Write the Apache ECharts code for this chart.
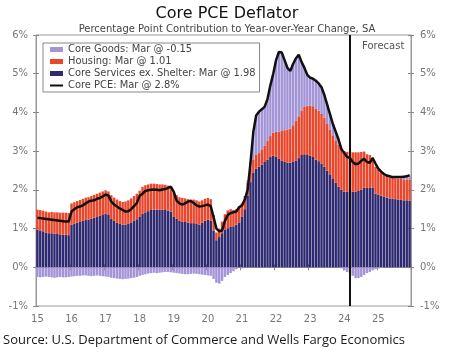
<!DOCTYPE html>
<html>
<head>
<meta charset="utf-8">
<script src="https://cdn.jsdelivr.net/npm/echarts@6/dist/echarts.min.js"></script>
<style>
html,body{margin:0;padding:0;background:#fff;}
#c{width:458px;height:361px;}
</style>
</head>
<body>
<div id="c"></div>
<script>
const years = ['15','16','17','18','19','20','21','22','23','24','25'];
const yAxisTicks = [-1, 0, 1, 2, 3, 4, 5, 6];

// Core services ex. shelter (pp contribution), Jan 2015 - Dec 2025
const services = [
  0.97,0.95,0.93,0.9,0.88,0.88,0.87,0.86,0.85,0.84,0.84,0.83,
  1.1,1.12,1.15,1.17,1.2,1.22,1.23,1.25,1.28,1.3,1.33,1.35,
  1.38,1.35,1.25,1.2,1.15,1.12,1.1,1.1,1.12,1.16,1.2,1.24,
  1.3,1.38,1.42,1.45,1.48,1.49,1.49,1.49,1.49,1.48,1.46,1.44,
  1.3,1.25,1.2,1.18,1.17,1.15,1.14,1.14,1.12,1.1,1.15,1.2,
  1.23,1.2,0.95,0.7,0.78,0.88,0.97,1.01,1.04,1.06,1.1,1.16,
  1.3,1.5,1.85,2.2,2.45,2.55,2.6,2.65,2.72,2.78,2.85,2.88,
  2.85,2.8,2.76,2.72,2.7,2.7,2.72,2.76,2.82,2.9,2.92,2.9,
  2.88,2.85,2.78,2.74,2.68,2.6,2.5,2.4,2.28,2.18,2.08,2.0,
  1.95,1.95,1.98,1.95,1.95,1.97,2.0,2.05,2.05,2.05,2.05,1.9,
  1.88,1.85,1.83,1.8,1.78,1.77,1.76,1.75,1.74,1.73,1.73,1.72
];
// Housing
const housing = [
  0.52,0.53,0.53,0.54,0.54,0.55,0.55,0.56,0.56,0.57,0.57,0.57,
  0.55,0.56,0.56,0.57,0.57,0.58,0.58,0.59,0.59,0.6,0.6,0.61,
  0.61,0.61,0.61,0.6,0.6,0.59,0.59,0.6,0.61,0.62,0.64,0.66,
  0.68,0.7,0.7,0.69,0.68,0.67,0.66,0.65,0.65,0.65,0.65,0.64,
  0.62,0.61,0.61,0.61,0.61,0.61,0.61,0.61,0.61,0.6,0.58,0.57,
  0.56,0.56,0.4,0.2,0.22,0.3,0.4,0.46,0.46,0.42,0.4,0.38,
  0.35,0.34,0.34,0.34,0.34,0.35,0.35,0.38,0.42,0.48,0.54,0.6,
  0.65,0.7,0.76,0.82,0.86,0.88,0.95,1.02,1.08,1.15,1.22,1.27,
  1.3,1.31,1.31,1.3,1.28,1.26,1.2,1.16,1.13,1.1,1.09,1.08,
  1.05,1.03,1.01,1.02,1.02,1.0,0.98,0.94,0.87,0.85,0.79,0.7,
  0.65,0.6,0.58,0.56,0.55,0.54,0.54,0.54,0.54,0.54,0.54,0.55
];
// Core goods
const goods = [
  -0.25,-0.26,-0.25,-0.24,-0.25,-0.26,-0.27,-0.26,-0.25,-0.26,-0.26,-0.25,
  -0.24,-0.23,-0.22,-0.22,-0.21,-0.21,-0.22,-0.23,-0.22,-0.21,-0.22,-0.23,
  -0.24,-0.25,-0.27,-0.28,-0.29,-0.3,-0.31,-0.3,-0.29,-0.28,-0.27,-0.25,
  -0.22,-0.2,-0.18,-0.16,-0.15,-0.14,-0.15,-0.14,-0.13,-0.12,-0.12,-0.13,
  -0.14,-0.15,-0.16,-0.17,-0.18,-0.18,-0.17,-0.16,-0.17,-0.18,-0.19,-0.2,
  -0.21,-0.22,-0.3,-0.4,-0.42,-0.35,-0.25,-0.2,-0.15,-0.1,-0.05,0.03,
  -0.03,0.0,0.05,0.2,0.7,1.0,1.07,1.05,1.0,1.09,1.31,1.52,
  1.85,2.06,2.03,1.81,1.59,1.49,1.58,1.62,1.59,1.25,1.01,0.8,
  0.72,0.71,0.73,0.71,0.69,0.59,0.5,0.39,0.29,0.22,0.13,-0.03,
  -0.08,-0.12,-0.15,-0.22,-0.28,-0.28,-0.25,-0.2,-0.15,-0.12,-0.08,-0.05,
  -0.03,-0.02,0.0,0.02,0.03,0.03,0.04,0.05,0.06,0.07,0.08,0.1
];
// Core PCE, year-over-year %
const corePCE = [
  1.28,1.27,1.26,1.25,1.24,1.23,1.22,1.21,1.2,1.19,1.18,1.18,
  1.44,1.5,1.55,1.57,1.6,1.65,1.7,1.72,1.73,1.77,1.79,1.83,
  1.88,1.85,1.7,1.62,1.57,1.52,1.48,1.44,1.45,1.5,1.58,1.66,
  1.85,1.9,1.97,1.99,2.0,2.01,2.0,1.99,2.01,2.02,2.05,2.08,
  1.95,1.72,1.65,1.62,1.65,1.7,1.71,1.66,1.6,1.57,1.58,1.6,
  1.62,1.58,1.3,1.0,0.93,0.95,1.2,1.35,1.4,1.42,1.44,1.55,
  1.6,1.75,2.0,2.7,3.5,3.92,4.02,4.08,4.15,4.35,4.7,5.0,
  5.35,5.56,5.55,5.35,5.15,5.07,5.25,5.4,5.49,5.3,5.15,4.97,
  4.9,4.87,4.82,4.75,4.65,4.45,4.2,3.95,3.7,3.5,3.3,3.05,
  2.95,2.85,2.82,2.72,2.66,2.68,2.75,2.8,2.72,2.7,2.82,2.68,
  2.55,2.47,2.41,2.37,2.35,2.33,2.33,2.33,2.33,2.34,2.35,2.38
];
const recession = ['2020-02', '2020-04'];
const forecastStart = '2024-03';

const months = [];
years.forEach(y => { for (let m = 1; m <= 12; m++) months.push('20' + y + '-' + (m < 10 ? '0' + m : m)); });

const names = ['Core Goods: Mar @ -0.15', 'Housing: Mar @ 1.01', 'Core Services ex. Shelter: Mar @ 1.98', 'Core PCE: Mar @ 2.8%'];
const axisFont = {color: '#777', fontSize: 10, fontFamily: 'DejaVu Sans'};
const lineIcon = 'path://M0,0L13,0L13,0.01Z M0,1.6L13,1.6L13,3.4L0,3.4Z M0,5L13,5L13,5.01Z';
const yearTick = (i) => i % 12 === 0;

function yAx(pos, inside) {
  return {type: 'value', min: -1, max: 6, interval: 1, position: pos,
    axisLine: {show: !inside, lineStyle: {color: '#999'}},
    axisTick: {show: true, inside: inside, length: 3, lineStyle: {color: '#888'}},
    axisLabel: Object.assign({show: !inside, formatter: '{value}%', margin: pos === 'left' ? 8 : 9}, axisFont),
    splitLine: {show: false}};
}

const chart = echarts.init(document.getElementById('c'), null, {renderer: 'canvas'});
chart.setOption({
  animation: false,
  backgroundColor: '#fff',
  title: [
    {text: 'Core PCE Deflator', left: 222, top: 1, textAlign: 'center',
     textStyle: {fontFamily: 'DejaVu Sans', fontSize: 16, fontWeight: 'normal', color: '#111'}},
    {text: 'Percentage Point Contribution to Year-over-Year Change, SA', left: 222, top: 19, textAlign: 'center',
     textStyle: {fontFamily: 'DejaVu Sans', fontSize: 10, fontWeight: 'normal', color: '#444'}}
  ],
  grid: {left: 36, right: 47, top: 35, bottom: 55, show: true, borderColor: '#999', borderWidth: 1, backgroundColor: 'transparent'},
  legend: {
    orient: 'vertical', left: 43, top: 43,
    data: [
      {name: names[0], icon: 'rect'},
      {name: names[1], icon: 'rect'},
      {name: names[2], icon: 'rect'},
      {name: names[3], icon: lineIcon, itemStyle: {color: '#111'}}
    ],
    itemWidth: 13, itemHeight: 5, itemGap: 1,
    padding: [1, 4, 1, 7],
    borderColor: '#888', borderWidth: 1, backgroundColor: '#fff',
    textStyle: {fontFamily: 'DejaVu Sans Condensed', fontSize: 11, color: '#444', lineHeight: 11},
    selectedMode: false
  },
  xAxis: [
    {type: 'category', data: months, boundaryGap: true, position: 'bottom',
     axisLine: {lineStyle: {color: '#999'}},
     axisTick: {show: true, length: 3, lineStyle: {color: '#888'}, interval: yearTick},
     axisLabel: Object.assign({interval: yearTick, margin: 8, formatter: (v) => v.slice(2, 4)}, axisFont),
     splitLine: {show: false}},
    {type: 'category', data: months, boundaryGap: true, position: 'bottom',
     axisLine: {show: false},
     axisTick: {show: true, inside: true, length: 3, lineStyle: {color: '#888'}, interval: yearTick},
     axisLabel: {show: false},
     splitLine: {show: false}}
  ],
  yAxis: [yAx('left', false), yAx('right', false), yAx('left', true), yAx('right', true)],
  series: [
    {name: names[2], type: 'bar', stack: 'pce', data: services, barCategoryGap: '14%',
     itemStyle: {color: '#2e2a72'},
     markArea: {silent: true, itemStyle: {color: '#dedede'}, data: [[{xAxis: recession[0]}, {xAxis: recession[1]}]]}},
    {name: names[1], type: 'bar', stack: 'pce', data: housing, itemStyle: {color: '#e8472c'}},
    {name: names[0], type: 'bar', stack: 'pce', data: goods, itemStyle: {color: '#a294d6'}},
    {name: names[3], type: 'line', data: corePCE, symbol: 'none', showSymbol: false,
     lineStyle: {color: '#111', width: 2.5}, itemStyle: {color: '#111'}, z: 4,
     markLine: {silent: true, symbol: 'none', label: {show: false},
       lineStyle: {color: '#111', width: 2, type: 'solid'}, data: [{xAxis: forecastStart}]}}
  ],
  graphic: [
    {type: 'text', left: 362, top: 41, style: {text: 'Forecast', fill: '#555', font: '10px "DejaVu Sans"'}},
    {type: 'text', left: 3, top: 334, style: {text: 'Source: U.S. Department of Commerce and Wells Fargo Economics', fill: '#1a1a1a', font: '13px "Open Sans"'}}
  ]
});
</script>
</body>
</html>
